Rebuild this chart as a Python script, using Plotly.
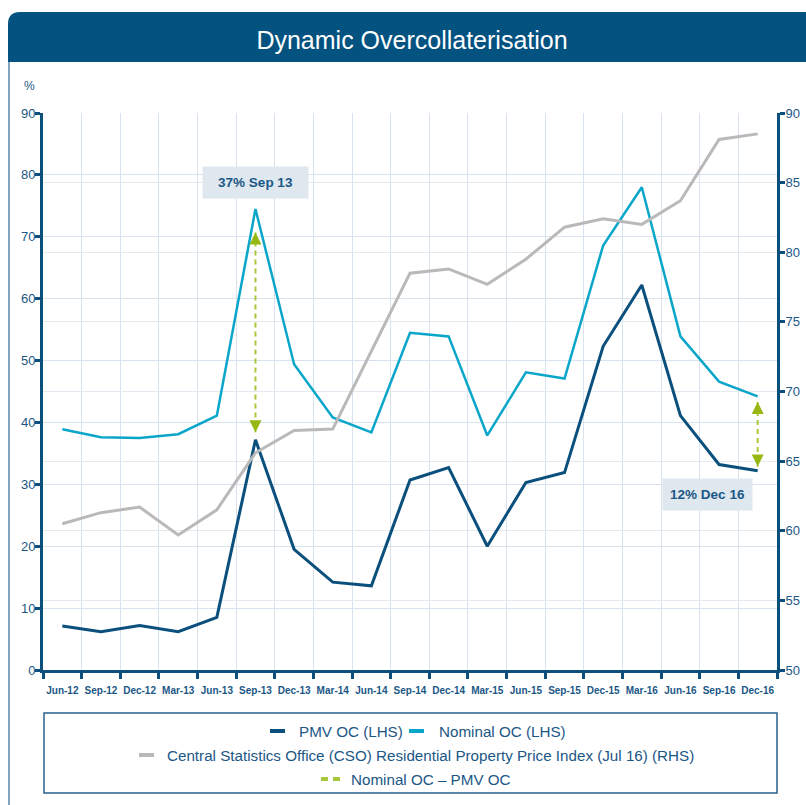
import plotly.graph_objects as go

# ---------------- data ----------------
dates = ["Jun-12", "Sep-12", "Dec-12", "Mar-13", "Jun-13", "Sep-13", "Dec-13",
         "Mar-14", "Jun-14", "Sep-14", "Dec-14", "Mar-15", "Jun-15", "Sep-15",
         "Dec-15", "Mar-16", "Jun-16", "Sep-16", "Dec-16"]
pmv_oc = [7.1, 6.2, 7.2, 6.2, 8.5, 37.2, 19.5, 14.2, 13.6, 30.7, 32.7, 20.0,
          30.3, 31.9, 52.3, 62.2, 41.1, 33.2, 32.2]
nominal_oc = [38.9, 37.6, 37.5, 38.1, 41.1, 74.5, 49.4, 40.8, 38.4, 54.5, 53.9,
              37.9, 48.1, 47.1, 68.6, 78.0, 53.9, 46.6, 44.2]
cso_index = [60.5, 61.3, 61.7, 59.7, 61.5, 65.6, 67.2, 67.3, 72.9, 78.5, 78.8,
             77.7, 79.5, 81.8, 82.4, 82.0, 83.7, 88.1, 88.5]

arrow_dates = ["Sep-13", "Dec-16"]
arrow_top_gap = [3.8, 0.9]
arrow_bottom_gap = [1.2, 0.7]

callout_texts = ["37% Sep 13", "12% Dec 16"]
callout_x = [5, 16.7]
callout_y = [78.8, 28.3]
callout_w = [97, 81]

left_ticks = list(range(0, 91, 10))
right_ticks = list(range(50, 91, 5))

legend_rows = [["PMV OC (LHS)", "Nominal OC (LHS)"],
               ["Central Statistics Office (CSO) Residential Property Price Index (Jul 16) (RHS)"],
               ["Nominal OC \u2013 PMV OC"]]

# ---------------- style ----------------
NAVY = "#0b4f7d"
CYAN = "#0aa6ca"
GREY = "#b9b9b9"
GREEN = "#a9c73b"
GREEN_D = "#97b812"
TEXT = "#1b5786"
GRID = "#d9e3ed"
BAR = "#03527f"
FONT = "Liberation Sans, Arial, sans-serif"

W, H = 806, 805
L, R, T, B = 43, 777, 113, 670


def px(x):
    return (x - L) / (R - L)


def py(y):
    return (B - y) / (B - T)


fig = go.Figure()

fig.add_trace(go.Scatter(x=dates, y=cso_index, yaxis="y2", mode="lines",
                         line=dict(color=GREY, width=3), name=legend_rows[1][0]))
fig.add_trace(go.Scatter(x=dates, y=nominal_oc, mode="lines",
                         line=dict(color=CYAN, width=2.5), name=legend_rows[0][1]))
fig.add_trace(go.Scatter(x=dates, y=pmv_oc, mode="lines",
                         line=dict(color=NAVY, width=3), name=legend_rows[0][0]))

# difference arrows
for d, tg, bg in zip(arrow_dates, arrow_top_gap, arrow_bottom_gap):
    i = dates.index(d)
    top = nominal_oc[i] - tg
    bot = pmv_oc[i] + bg
    fig.add_trace(go.Scatter(x=[d, d], y=[top, bot], mode="lines",
                             line=dict(color=GREEN, width=2, dash="5px,4px"),
                             name=legend_rows[2][0], hoverinfo="skip"))
    fig.add_trace(go.Scatter(x=[d, d], y=[top, bot], mode="markers",
                             marker=dict(symbol=["arrow-up", "arrow-down"], size=12,
                                         color=GREEN_D, line=dict(width=0)),
                             hoverinfo="skip"))

shapes = []
# title bar with rounded top-left corner
x0, x1, y0, y1, rr = 8, 806, 12, 62, 12
path = (f"M{px(x0)},{py(y1)} L{px(x0)},{py(y0 + rr)} "
        f"Q{px(x0)},{py(y0)} {px(x0 + rr)},{py(y0)} "
        f"L{px(x1)},{py(y0)} L{px(x1)},{py(y1)} Z")
shapes.append(dict(type="path", xref="paper", yref="paper", path=path,
                   fillcolor=BAR, line=dict(width=0), layer="below"))
# left frame line
shapes.append(dict(type="line", xref="paper", yref="paper",
                   x0=px(9), x1=px(9), y0=py(62), y1=py(805),
                   line=dict(color="#5a86aa", width=1.5)))
# legend box
shapes.append(dict(type="rect", xref="paper", yref="paper",
                   x0=px(44), x1=px(777), y0=py(713), y1=py(793),
                   line=dict(color="#2d5f88", width=1.5), fillcolor="rgba(0,0,0,0)"))

annotations = []
# legend entries (row y positions, symbol x, text x)
leg_items = [
    (legend_rows[0][0], NAVY, "solid", 270, 297, 731),
    (legend_rows[0][1], CYAN, "solid", 409, 437, 731),
    (legend_rows[1][0], GREY, "solid", 139, 165, 755),
    (legend_rows[2][0], GREEN, "dash", 321, 349, 779),
]
for text, col, kind, sx, tx, yy in leg_items:
    if kind == "solid":
        shapes.append(dict(type="line", xref="paper", yref="paper",
                           x0=px(sx), x1=px(sx + 15), y0=py(yy), y1=py(yy),
                           line=dict(color=col, width=4)))
    else:
        for k in range(2):
            shapes.append(dict(type="line", xref="paper", yref="paper",
                               x0=px(sx + k * 12), x1=px(sx + k * 12 + 7),
                               y0=py(yy), y1=py(yy),
                               line=dict(color=col, width=4)))
    annotations.append(dict(xref="paper", yref="paper", x=px(tx), y=py(yy),
                            xanchor="left", yanchor="middle", showarrow=False,
                            text=text, font=dict(family=FONT, size=15.2, color=TEXT)))

# callout boxes
for t, cx, cy, cw in zip(callout_texts, callout_x, callout_y, callout_w):
    annotations.append(dict(x=cx, y=cy, xref="x", yref="y", text=f"<b>{t}</b>",
                            showarrow=False, bgcolor="#dfe7ef", borderpad=4,
                            width=cw, height=23, align="center",
                            font=dict(family=FONT, size=13.5, color=TEXT)))

# % label
annotations.append(dict(xref="paper", yref="paper", x=px(29), y=py(86),
                        xanchor="center", yanchor="middle", showarrow=False,
                        text="%", font=dict(family=FONT, size=12, color=TEXT)))

fig.update_layout(
    width=W, height=H, autosize=False,
    margin=dict(l=L, r=W - R, t=T, b=H - B, pad=0),
    paper_bgcolor="white", plot_bgcolor="white",
    showlegend=False,
    title=dict(text="Dynamic Overcollaterisation", x=412 / W, y=1 - 40 / H,
               xanchor="center", yanchor="middle", xref="container", yref="container",
               font=dict(family=FONT, size=25, color="white")),
    xaxis=dict(type="category", categoryarray=dates, range=[-0.5, 18.5],
               tickson="boundaries", ticks="outside", ticklen=6, tickwidth=2.5,
               tickcolor=NAVY, showline=True, linecolor=NAVY, linewidth=3,
               showgrid=True, gridcolor=GRID, gridwidth=1, tickangle=0,
               ticklabelstandoff=9, automargin=False,
               tickfont=dict(family=FONT, size=10, color=TEXT),
               fixedrange=True),
    yaxis=dict(range=[0, 90], tickvals=left_ticks, ticks="outside", ticklen=5,
               tickwidth=2.5, tickcolor=NAVY, showline=True, linecolor=NAVY,
               linewidth=3, showgrid=True, gridcolor=GRID, gridwidth=1,
               zeroline=False, ticklabelstandoff=-3, automargin=False,
               tickfont=dict(family=FONT, size=13, color=TEXT)),
    yaxis2=dict(range=[50, 90], tickvals=right_ticks, overlaying="y", side="right",
                ticks="outside", ticklen=5, tickwidth=2.5, tickcolor=NAVY,
                showline=True, linecolor=NAVY, linewidth=3, showgrid=True,
                gridcolor="#e3eaf2", gridwidth=1, zeroline=False,
                ticklabelstandoff=-2, automargin=False,
                tickfont=dict(family=FONT, size=13, color=TEXT)),
    shapes=shapes,
    annotations=annotations,
)
fig.update_xaxes(tickprefix="<b>", ticksuffix="</b>")
fig.update_yaxes(tickprefix="<b>", ticksuffix="</b>")

fig.write_html(
    "out.html",
    config={"displayModeBar": False, "responsive": False},
    post_script=("document.documentElement.style.overflow='hidden';"
                 "document.body.style.margin='0px';"
                 "document.body.style.overflow='hidden';"),
)
